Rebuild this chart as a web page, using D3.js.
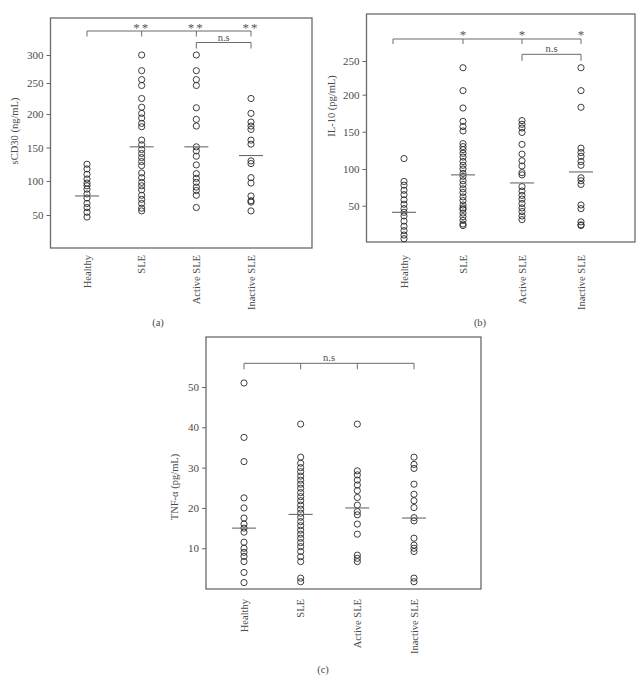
<!DOCTYPE html>
<html><head><meta charset="utf-8">
<script src="https://cdn.jsdelivr.net/npm/d3@7"></script>
<style>body{margin:0;background:#fff;} svg{display:block;} text{-webkit-font-smoothing:antialiased;} .stars{opacity:0.99;}</style>
</head><body><svg id="chart" width="642" height="678"></svg>
<script>
// ---------------- DATA ----------------
const categories = ["Healthy", "SLE", "Active SLE", "Inactive SLE"];

const sCD30Healthy  = [125, 118, 110, 103, 97, 93, 88, 81, 75, 67, 61, 54, 47];
const sCD30SLE      = [300, 272, 256, 246, 225, 211, 201, 194, 186, 181, 161, 154, 147, 141, 135, 129, 123, 112, 105, 98, 93, 87, 79, 73, 67, 60, 56];
const sCD30Active   = [300, 272, 256, 246, 210, 192, 182, 151, 145, 137, 124, 111, 104, 98, 91, 86, 79, 61];
const sCD30Inactive = [225, 201, 188, 182, 177, 161, 155, 130, 126, 105, 97, 78, 71, 69, 56];
const sCD30Lines    = [78, 151, 151, 138];
const sCD30Ticks    = [50, 100, 150, 200, 250, 300];

const il10Healthy  = [114, 83, 78, 71, 65, 58, 52, 46, 41, 36, 29, 22, 16, 10, 5];
const il10SLE      = [240, 206, 182, 164, 157, 151, 134, 130, 126, 121, 116, 110, 105, 100, 94, 90, 84, 79, 73, 68, 62, 57, 51, 47, 45, 40, 35, 30, 25, 23];
const il10Active   = [165, 160, 155, 149, 133, 120, 111, 104, 95, 92, 76, 70, 64, 59, 53, 47, 42, 36, 31];
const il10Inactive = [240, 206, 183, 128, 122, 117, 110, 105, 88, 84, 79, 51, 46, 28, 24, 23];
const il10Lines    = [41, 92, 81, 96];
const il10Ticks    = [50, 100, 150, 200, 250];

const tnfHealthy  = [51, 37.5, 31.5, 22.5, 20, 17.5, 16, 15, 14, 11.5, 10, 9, 8, 6.7, 4, 1.5];
const tnfSLE      = [40.8, 32.6, 31.1, 30, 29, 27.9, 26.9, 25.9, 24.9, 23.8, 22.8, 21.8, 20.7, 19.7, 18.7, 17.7, 16.6, 15.6, 14.5, 13.5, 12.5, 11.4, 10.4, 9.2, 7.9, 6.7, 2.6, 1.7];
const tnfActive   = [40.8, 29.2, 28.2, 26.9, 25.7, 24.3, 22.6, 20.7, 19.1, 18.3, 16, 13.5, 8.3, 7.5, 6.7];
const tnfInactive = [32.6, 30.8, 29.8, 25.9, 23.4, 21.8, 20.1, 17.6, 16.8, 12.5, 10.8, 10, 9.2, 2.6, 1.7];
const tnfLines    = [15, 18.4, 20, 17.5];
const tnfTicks    = [10, 20, 30, 40, 50];

const sCD30Stars = ["**", "**", "**"];
const il10Stars  = ["*", "*", "*"];
const nsLabel = "n.s";

// ---------------- DRAW ----------------
const svg = d3.select("#chart");
const FONT = "'Times New Roman','Liberation Serif',Tinos,serif";
const TXT = "#4a4a4a";

function panel(cfg) {
  const g = svg.append("g");
  const x = d3.scalePoint().domain(categories).range(cfg.xRange);
  const y = d3.scaleLinear().domain(cfg.yDomain).range(cfg.yRange);
  const f = cfg.frame;

  // y axis ticks
  const axis = d3.axisLeft(y).tickValues(cfg.ticks).tickSize(4).tickPadding(3);
  const ag = g.append("g").attr("transform", `translate(${f.x0},0)`).call(axis);
  ag.select(".domain").remove();
  ag.selectAll(".tick line").attr("stroke", "#666");
  ag.selectAll(".tick text").attr("fill", TXT).style("font-family", FONT).style("font-size", "11px");

  // frame
  g.append("rect").attr("x", f.x0).attr("y", f.y0).attr("width", f.x1 - f.x0).attr("height", f.y1 - f.y0)
    .attr("fill", "none").attr("stroke", "#6a6a6a").attr("stroke-width", 1.3);

  // points
  cfg.series.forEach((vals, i) => {
    g.append("g").selectAll("circle").data(vals).join("circle")
      .attr("cx", x(categories[i])).attr("cy", d => y(d)).attr("r", 3.1)
      .attr("fill", "none").attr("stroke", "#2a2a2a").attr("stroke-width", 0.9);
  });

  // centre lines
  g.append("g").selectAll("line").data(cfg.lines).join("line")
    .attr("x1", (d, i) => x(categories[i]) - 12).attr("x2", (d, i) => x(categories[i]) + 12)
    .attr("y1", d => y(d)).attr("y2", d => y(d))
    .attr("stroke", "#6a6a6a").attr("stroke-width", 1.1);

  // main bracket
  const b = cfg.bracket;
  const bx0 = x(categories[0]) + (b.leftOffset || 0);
  const bx1 = x(categories[3]);
  const bg = g.append("g").attr("stroke", "#6a6a6a").attr("stroke-width", 1).attr("fill", "none");
  bg.append("line").attr("x1", bx0).attr("x2", bx1).attr("y1", b.y).attr("y2", b.y);
  bg.append("line").attr("x1", bx0).attr("x2", bx0).attr("y1", b.y).attr("y2", b.y + b.tick);
  categories.slice(1).forEach(c => {
    bg.append("line").attr("x1", x(c)).attr("x2", x(c)).attr("y1", b.y).attr("y2", b.y + b.tick);
  });
  if (b.stars) {
    const sg = g.append("g").attr("class", "stars");
    b.stars.forEach((s, i) => {
      sg.append("text").attr("x", x(categories[i + 1])).attr("y", b.starY)
        .attr("text-anchor", "middle").attr("fill", "#555").style("font-family", FONT)
        .style("font-size", "13px").style("letter-spacing", s.length > 1 ? "2px" : "0px").text(s);
    });
  }
  if (b.label) {
    g.append("text").attr("x", (x(categories[1]) + x(categories[2])) / 2).attr("y", b.labelY)
      .attr("text-anchor", "middle").attr("fill", TXT).style("font-family", FONT).style("font-size", "10.5px").text(b.label);
  }
  // n.s bracket between Active and Inactive
  if (cfg.nsBracket) {
    const n = cfg.nsBracket;
    const a = x(categories[2]), c = x(categories[3]);
    bg.append("line").attr("x1", a).attr("x2", c).attr("y1", n.y).attr("y2", n.y);
    bg.append("line").attr("x1", a).attr("x2", a).attr("y1", n.y).attr("y2", n.y + n.tick);
    bg.append("line").attr("x1", c).attr("x2", c).attr("y1", n.y).attr("y2", n.y + n.tick);
    g.append("text").attr("x", (a + c) / 2).attr("y", n.labelY).attr("text-anchor", "middle")
      .attr("fill", TXT).style("font-family", FONT).style("font-size", "10.5px").text(nsLabel);
  }

  // category labels (rotated)
  categories.forEach(c => {
    g.append("text").attr("transform", `translate(${x(c) + 3.5},${f.y1 + cfg.catGap}) rotate(-90)`)
      .attr("text-anchor", "end").attr("fill", TXT).style("font-family", FONT).style("font-size", "10.5px").text(c);
  });

  // y label
  g.append("text").attr("transform", `translate(${cfg.ylabelPos[0]},${cfg.ylabelPos[1]}) rotate(-90)`)
    .attr("text-anchor", "middle").attr("fill", TXT).style("font-family", FONT).style("font-size", "10.5px").text(cfg.ylabel);

  // panel tag
  g.append("text").attr("x", cfg.tagPos[0]).attr("y", cfg.tagPos[1]).attr("text-anchor", "middle")
    .attr("fill", TXT).style("font-family", FONT).style("font-size", "10.5px").text(cfg.tag);
}

panel({
  frame: {x0: 50.5, x1: 312, y0: 18, y1: 248},
  xRange: [87, 251],
  yDomain: [0, 50, 100, 150, 200, 250, 300, 366],
  yRange: [249, 215, 181, 147.5, 114, 83, 55, 18],
  ticks: sCD30Ticks,
  series: [sCD30Healthy, sCD30SLE, sCD30Active, sCD30Inactive],
  lines: sCD30Lines,
  bracket: {y: 31, tick: 5.5, stars: sCD30Stars, starY: 32},
  nsBracket: {y: 42.5, tick: 6, labelY: 41},
  catGap: 7,
  ylabel: "sCD30 (ng/mL)", ylabelPos: [18, 131],
  tag: "(a)", tagPos: [158, 326]
});

panel({
  frame: {x0: 366.5, x1: 635, y0: 14, y1: 242},
  xRange: [404, 581],
  yDomain: [0, 50, 100, 150, 200, 250, 320],
  yRange: [242.4, 205.7, 169, 131.7, 94.7, 61, 14],
  ticks: il10Ticks,
  series: [il10Healthy, il10SLE, il10Active, il10Inactive],
  lines: il10Lines,
  bracket: {y: 39, tick: 5, stars: il10Stars, starY: 38.5, leftOffset: -11},
  nsBracket: {y: 54.3, tick: 6.5, labelY: 51.5},
  catGap: 13,
  ylabel: "IL-10 (pg/mL)", ylabelPos: [335, 106],
  tag: "(b)", tagPos: [480, 326]
});

panel({
  frame: {x0: 206, x1: 481, y0: 337, y1: 589},
  xRange: [244, 414],
  yDomain: [0, 62.4],
  yRange: [588.6, 337],
  ticks: tnfTicks,
  series: [tnfHealthy, tnfSLE, tnfActive, tnfInactive],
  lines: tnfLines,
  bracket: {y: 363.3, tick: 6, label: nsLabel, labelY: 361},
  catGap: 10,
  ylabel: "TNF-α (pg/mL)", ylabelPos: [178, 487],
  tag: "(c)", tagPos: [323, 673]
});
</script>
</body></html>
